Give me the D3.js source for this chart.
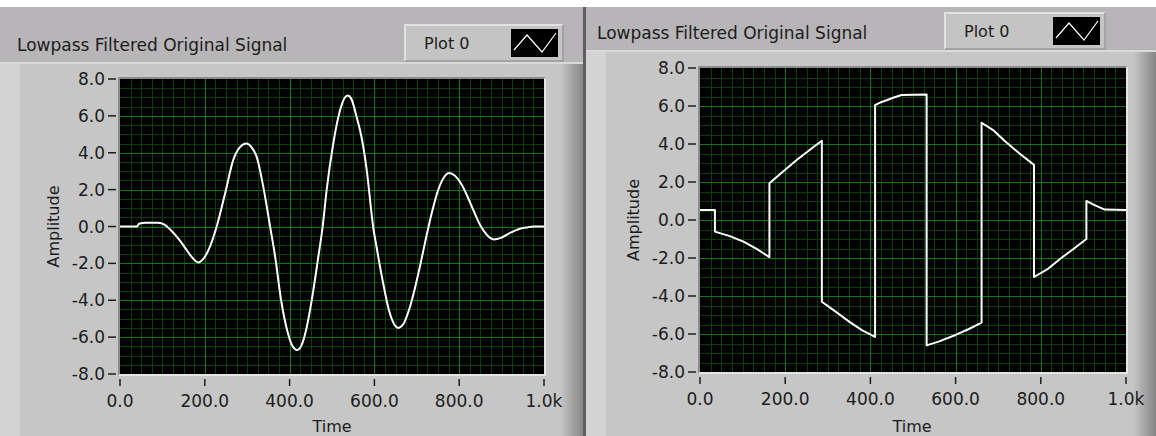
<!DOCTYPE html>
<html>
<head>
<meta charset="utf-8">
<script src="https://cdn.jsdelivr.net/npm/d3@7"></script>
<style>
    body { margin: 0; background: #fff; overflow: hidden; }
    text { font-family: "DejaVu Sans", sans-serif; fill: #1c1c1c; }
</style>
</head>
<body>
<div id="chart"></div>
<script>
// values
const chart_title = "Lowpass Filtered Original Signal";
const legend_label = "Plot 0";
const x_label = "Time";
const y_label = "Amplitude";

const y_ticks = [8, 6, 4, 2, 0, -2, -4, -6, -8];
const y_tick_labels = ["8.0", "6.0", "4.0", "2.0", "0.0", "-2.0", "-4.0", "-6.0", "-8.0"];
const x_ticks = [0, 200, 400, 600, 800, 1000];
const x_tick_labels = ["0.0", "200.0", "400.0", "600.0", "800.0", "1.0k"];

// left graph: smooth filtered wave
const time_left = [0, 40, 45, 60, 90, 105, 120, 141, 155, 169, 185, 195, 212, 228, 248, 267, 283, 298, 310, 322, 338, 354, 366,
    380, 395, 405, 418, 428, 440, 455, 468, 478, 487, 503, 519, 530, 537, 545, 558, 570, 582, 597, 605, 620, 635, 648, 656,
    668, 682, 695, 708, 722, 735, 750, 765, 776, 790, 805, 820, 835, 850, 865, 882, 900, 920, 940, 960, 975, 1000];
const amp_left = [0, 0, 0.15, 0.2, 0.2, 0.1, -0.2, -0.75, -1.2, -1.65, -1.95, -1.8, -1.1, 0, 1.8, 3.6, 4.3, 4.5, 4.3, 3.8, 2.15, 0, -1.65,
    -4.0, -5.7, -6.4, -6.7, -6.45, -5.5, -3.6, -1.6, 0, 1.9, 4.5, 6.3, 6.98, 7.1, 6.95, 5.95, 4.8, 3.05, 0, -1.1, -3.0, -4.6, -5.35, -5.5,
    -5.3, -4.5, -3.4, -2.1, -0.6, 0.7, 1.95, 2.7, 2.9, 2.75, 2.3, 1.6, 0.8, 0.05, -0.45, -0.7, -0.6, -0.35, -0.15, -0.05, 0, 0];

// right graph: piecewise segments with jumps
const time_right = [0, 35, 35, 70, 102, 135, 163, 163, 195, 227, 258, 286, 286, 320, 350, 380, 411, 411, 425, 438, 455, 473, 532,
    532, 560, 600, 630, 661, 661, 690, 716, 750, 784, 784, 815, 845, 875, 907, 907, 925, 950, 1000];
const amp_right = [0.53, 0.53, -0.61, -0.85, -1.14, -1.55, -1.95, 1.93, 2.55, 3.16, 3.7, 4.17, -4.3, -4.85, -5.35, -5.8, -6.15, 6.05, 6.2, 6.3, 6.45, 6.58, 6.6,
    -6.6, -6.4, -6.05, -5.75, -5.4, 5.12, 4.7, 4.15, 3.5, 2.9, -3.0, -2.6, -2.05, -1.55, -1.0, 1.0, 0.8, 0.55, 0.53];

const panels = [
    { x0: 0, x1: 583, band: 62, plot: { left: 120, right: 544, top: 79, bottom: 374 },
      title_x: 17, title_y: 51, legend: { x: 405, y: 25, w: 158, h: 36 }, label_x: 53, time_x: 332,
      times: time_left, amps: amp_left, curve: d3.curveMonotoneX },
    { x0: 586, x1: 1156, band: 50, plot: { left: 700, right: 1126, top: 68, bottom: 372 },
      title_x: 597, title_y: 39, legend: { x: 945, y: 13, w: 160, h: 36 }, label_x: 633, time_x: 912,
      times: time_right, amps: amp_right, curve: d3.curveLinear }
];

const W = 1156, H = 436;

let svg = d3.select("#chart")
    .append("svg")
    .attr("width", W)
    .attr("height", H);

let defs = svg.append("defs");
let grad = defs.append("linearGradient")
    .attr("id", "edge_shade")
    .attr("x1", "0").attr("x2", "1").attr("y1", "0").attr("y2", "0");
grad.append("stop").attr("offset", "0").attr("stop-color", "#c4c4c4");
grad.append("stop").attr("offset", "1").attr("stop-color", "#858585");

svg.append("rect")
    .attr("width", W).attr("height", H)
    .attr("fill", "#ffffff");

for (const p of panels) {
    draw_panel(p);
}

// divider between the two panels
svg.append("rect")
    .attr("x", 583).attr("y", 7).attr("width", 3).attr("height", H - 7)
    .attr("fill", "#5e5e5e");

function draw_panel(p) {
    const g = svg.append("g");
    const pw = p.x1 - p.x0;

    // title band and body
    g.append("rect")
        .attr("x", p.x0).attr("y", 7).attr("width", pw).attr("height", H - 7)
        .attr("fill", "#b7b5b7");
    g.append("rect")
        .attr("x", p.x0).attr("y", p.band).attr("width", pw).attr("height", H - p.band)
        .attr("fill", "#c6c6c6");
    g.append("rect")
        .attr("x", p.x0).attr("y", p.band).attr("width", pw).attr("height", 2)
        .attr("fill", "#d9d9d9");
    g.append("rect")
        .attr("x", p.x0).attr("y", p.band + 2).attr("width", 20).attr("height", H - p.band)
        .attr("fill", "#d3d3d3");
    g.append("rect")
        .attr("x", p.x1 - 22).attr("y", p.band + 2).attr("width", 22).attr("height", H - p.band)
        .attr("fill", "url(#edge_shade)");

    // title
    g.append("text")
        .attr("x", p.title_x).attr("y", p.title_y)
        .attr("font-size", "17px")
        .text(chart_title);

    // legend box
    const lg = p.legend;
    g.append("rect")
        .attr("x", lg.x).attr("y", lg.y).attr("width", lg.w).attr("height", lg.h)
        .attr("fill", "#c4c4c4");
    g.append("path")
        .attr("d", `M${lg.x},${lg.y + lg.h} V${lg.y} H${lg.x + lg.w}`)
        .attr("fill", "none").attr("stroke", "#e2e2e2").attr("stroke-width", 2);
    g.append("path")
        .attr("d", `M${lg.x},${lg.y + lg.h} H${lg.x + lg.w} V${lg.y}`)
        .attr("fill", "none").attr("stroke", "#9a9a9a").attr("stroke-width", 1.5);
    g.append("text")
        .attr("x", lg.x + 19).attr("y", lg.y + lg.h / 2 + 6)
        .attr("font-size", "16px")
        .text(legend_label);
    const sw = { x: lg.x + lg.w - 52, y: lg.y + 4, w: 47, h: lg.h - 8 };
    g.append("rect")
        .attr("x", sw.x).attr("y", sw.y).attr("width", sw.w).attr("height", sw.h)
        .attr("fill", "#000");
    g.append("path")
        .attr("d", `M${sw.x + 3},${sw.y + sw.h - 7} L${sw.x + 16},${sw.y + 6} L${sw.x + 31},${sw.y + sw.h - 5} L${sw.x + sw.w - 2},${sw.y + 4}`)
        .attr("fill", "none").attr("stroke", "#fff").attr("stroke-width", 1.2);

    // scales
    const pl = p.plot;
    const xScale = d3.scaleLinear().domain([0, 1000]).range([pl.left, pl.right]);
    const yScale = d3.scaleLinear().domain([-8, 8]).range([pl.bottom, pl.top]);

    // plot area
    g.append("rect")
        .attr("x", pl.left).attr("y", pl.top)
        .attr("width", pl.right - pl.left).attr("height", pl.bottom - pl.top)
        .attr("fill", "#000");

    let grid = g.append("g").attr("class", "grid");
    const minor_x = d3.range(25, 1000, 25).filter(v => v % 200 != 0);
    const minor_y = d3.range(-7.5, 8, 0.5).filter(v => v % 2 != 0);

    grid.selectAll(".mx").data(minor_x).enter().append("line")
        .attr("x1", d => Math.round(xScale(d)) + 0.5).attr("x2", d => Math.round(xScale(d)) + 0.5)
        .attr("y1", pl.top).attr("y2", pl.bottom)
        .attr("stroke", "#063e06").attr("stroke-width", 1);
    grid.selectAll(".my").data(minor_y).enter().append("line")
        .attr("y1", d => Math.round(yScale(d)) + 0.5).attr("y2", d => Math.round(yScale(d)) + 0.5)
        .attr("x1", pl.left).attr("x2", pl.right)
        .attr("stroke", "#063e06").attr("stroke-width", 1);
    grid.selectAll(".Mx").data(x_ticks.slice(1, -1)).enter().append("line")
        .attr("x1", d => Math.round(xScale(d)) + 0.5).attr("x2", d => Math.round(xScale(d)) + 0.5)
        .attr("y1", pl.top).attr("y2", pl.bottom)
        .attr("stroke", "#0a780a").attr("stroke-width", 1);
    grid.selectAll(".My").data(y_ticks.slice(1, -1)).enter().append("line")
        .attr("y1", d => Math.round(yScale(d)) + 0.5).attr("y2", d => Math.round(yScale(d)) + 0.5)
        .attr("x1", pl.left).attr("x2", pl.right)
        .attr("stroke", "#0a780a").attr("stroke-width", 1);

    // signal
    const pts = p.times.map((t, i) => ({ t: t, v: p.amps[i] }));
    const line = d3.line()
        .x(d => xScale(d.t))
        .y(d => yScale(d.v))
        .curve(p.curve);
    g.append("path")
        .datum(pts)
        .attr("d", line)
        .attr("fill", "none")
        .attr("stroke", "#ffffff")
        .attr("stroke-width", 2)
        .attr("stroke-linejoin", "round");

    // inset frame
    g.append("path")
        .attr("d", `M${pl.left - 1},${pl.bottom + 1} V${pl.top - 1} H${pl.right + 1}`)
        .attr("fill", "none").attr("stroke", "#7a7a7a").attr("stroke-width", 1.5);
    g.append("path")
        .attr("d", `M${pl.left - 1},${pl.bottom + 1} H${pl.right + 1} V${pl.top - 1}`)
        .attr("fill", "none").attr("stroke", "#f0f0f0").attr("stroke-width", 1.5);

    // y axis
    let yaxis = g.append("g").attr("class", "axis");
    yaxis.selectAll("line").data(y_ticks).enter().append("line")
        .attr("x1", pl.left - 12).attr("x2", pl.left - 4)
        .attr("y1", d => yScale(d)).attr("y2", d => yScale(d))
        .attr("stroke", "#1c1c1c").attr("stroke-width", 1.5);
    yaxis.selectAll("text").data(y_ticks).enter().append("text")
        .attr("x", pl.left - 15)
        .attr("y", d => yScale(d))
        .attr("dy", "0.36em")
        .attr("text-anchor", "end")
        .attr("font-size", "17px")
        .text((d, i) => y_tick_labels[i]);

    // x axis
    let xaxis = g.append("g").attr("class", "axis");
    xaxis.selectAll("line").data(x_ticks).enter().append("line")
        .attr("x1", d => xScale(d)).attr("x2", d => xScale(d))
        .attr("y1", pl.bottom + 5).attr("y2", pl.bottom + 12)
        .attr("stroke", "#1c1c1c").attr("stroke-width", 1.5);
    xaxis.selectAll("text").data(x_ticks).enter().append("text")
        .attr("x", d => xScale(d))
        .attr("y", pl.bottom + 33)
        .attr("text-anchor", "middle")
        .attr("font-size", "17px")
        .text((d, i) => x_tick_labels[i]);

    // axis names
    g.append("text")
        .attr("transform", `translate(${p.label_x}, ${(pl.top + pl.bottom) / 2}) rotate(-90)`)
        .attr("text-anchor", "middle")
        .attr("dy", "0.35em")
        .attr("font-size", "16px")
        .text(y_label);
    g.append("text")
        .attr("x", p.time_x)
        .attr("y", 432)
        .attr("text-anchor", "middle")
        .attr("font-size", "16px")
        .text(x_label);
}
</script>
</body>
</html>
